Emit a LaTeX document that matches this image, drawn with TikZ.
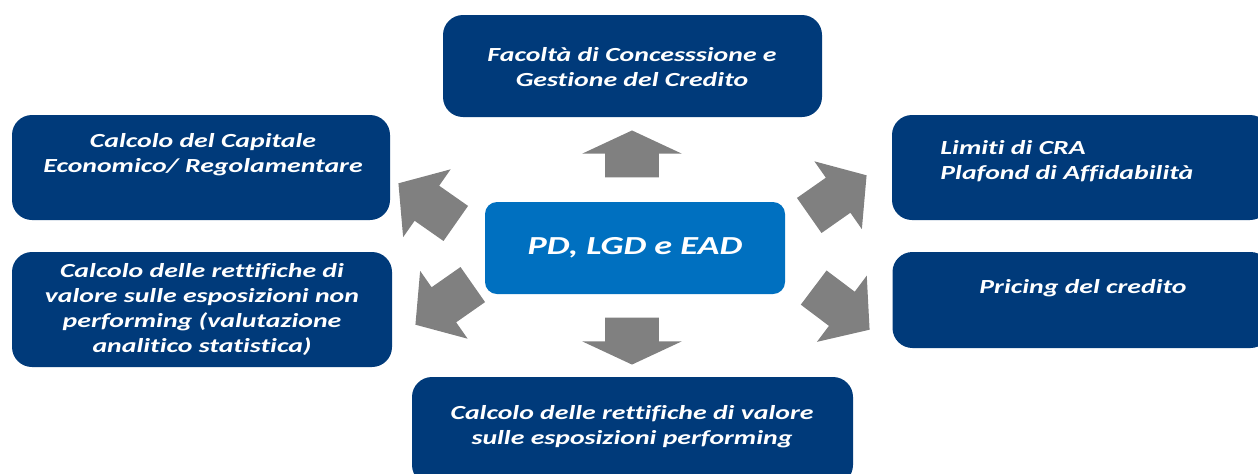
\documentclass[tikz,border=0pt]{standalone}
\usepackage{fontspec}
\setmainfont{Carlito}[FakeStretch=1.39, Ligatures=NoCommon]
\usetikzlibrary{shapes.arrows}
\definecolor{darkblue}{RGB}{0,58,122}
\definecolor{midblue}{RGB}{0,112,192}
\definecolor{arrowgray}{RGB}{128,128,128}
\tikzset{
  taskbox/.style={fill=darkblue, rounded corners=10pt, inner sep=0pt},
  tasktext/.style={text=white, font=\fontsize{10}{12.5}\selectfont\bfseries\itshape, align=center, inner sep=0pt},
  corebox/.style={fill=midblue, rounded corners=6pt, text=white, font=\fontsize{13}{15}\selectfont\bfseries\itshape},
  bigarrow/.style={single arrow, fill=arrowgray, inner xsep=0pt, inner ysep=13.25pt, minimum height=23.5pt, minimum width=49.5pt, single arrow head extend=11.5pt, single arrow tip angle=130, anchor=tip},
  slantarrow/.style={single arrow, fill=arrowgray, inner xsep=0pt, inner ysep=10.5pt, minimum height=35pt, minimum width=41pt, single arrow head extend=10pt, single arrow tip angle=100, anchor=tip}
}
\begin{document}
\begin{tikzpicture}[x=0.5pt, y=-0.5pt]
  \useasboundingbox (0,0) rectangle (1258,473);
  \clip (0,0) rectangle (1258,473);
  % boxes
  \node[taskbox, minimum width=189.5pt, minimum height=51pt] (facbox) at (632.5,66) {};
  \node[taskbox, minimum width=189pt, minimum height=52.5pt] (capbox) at (201,167.5) {};
  \node[taskbox, minimum width=190pt, minimum height=57.5pt] (nplbox) at (202,309.5) {};
  \node[taskbox, minimum width=189pt, minimum height=52.5pt] (crabox) at (1081,167.5) {};
  \node[taskbox, minimum width=189pt, minimum height=48pt] (prcbox) at (1081.5,300) {};
  \node[taskbox, minimum width=220.5pt, minimum height=54pt] (perfbox) at (632.5,431) {};
  \node[corebox, minimum width=150pt, minimum height=46pt] (core) at (635,248) {PD, LGD e EAD};
  % texts
  \node[tasktext] (factext) at (632,67.5) {Facoltà di Concesssione e\\Gestione del Credito};
  \node[tasktext] (captext) at (203,155) {Calcolo del Capitale\\Economico/ Regolamentare};
  \node[tasktext] (npltext) at (202,309) {Calcolo delle rettifiche di\\valore sulle esposizioni non\\performing (valutazione\\analitico statistica)};
  \node[tasktext, align=left, anchor=west] (cratext) at (940,161) {Limiti di CRA\\Plafond di Affidabilità};
  \node[tasktext] (prctext) at (1083,288) {Pricing del credito};
  \node[tasktext] (perftext) at (632,427) {Calcolo delle rettifiche di valore\\sulle esposizioni performing};
  % arrows
  \node[bigarrow, rotate=90] (toup) at (632,130) {};
  \node[bigarrow, rotate=-90] (todown) at (632,365) {};
  \node[slantarrow, rotate=145] (toupleft) at (398,183) {};
  \node[slantarrow, rotate=35] (toupright) at (867,175) {};
  \node[slantarrow, rotate=215] (todownleft) at (415,325) {};
  \node[slantarrow, rotate=-37] (todownright) at (870,330) {};
\end{tikzpicture}
\end{document}
